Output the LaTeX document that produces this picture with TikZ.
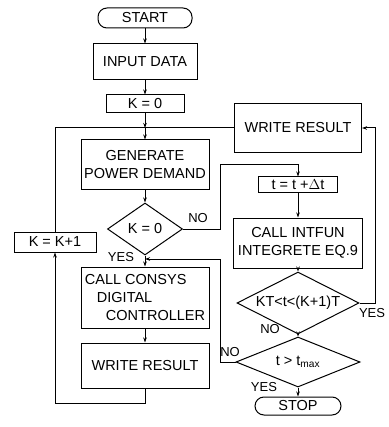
\documentclass[tikz,border=0pt]{standalone}
\usepackage{fontspec}
\setmainfont{Liberation Sans}
\usetikzlibrary{shapes.geometric,arrows.meta}
\newcommand\mytxt{\fontsize{14.5}{18}\selectfont}
\newcommand\mylab{\fontsize{13}{15}\selectfont}
\tikzset{
  box/.style={draw, line width=1pt, inner sep=0pt, font=\mytxt, align=center},
  term/.style={box, rounded corners=9pt},
  dia/.style={box, diamond, aspect=2},
  lab/.style={inner sep=0pt, font=\mylab},
  arr/.style={line width=1pt, -{Stealth[length=5pt,width=3.5pt]}},
  ln/.style={line width=1pt}
}
\begin{document}
\begin{tikzpicture}[x=1pt,y=-1pt]
\useasboundingbox (0,0) rectangle (388,427);
% left column
\node[term, minimum width=94, minimum height=20] (start) at (145,18) {START};
\node[box, minimum width=104, minimum height=36] (input) at (145,62) {INPUT DATA};
\node[box, minimum width=78, minimum height=18] (k0) at (145,104) {K = 0};
\node[box, minimum width=128, minimum height=50] (gen) at (145,165) {GENERATE\\POWER DEMAND};
\node[dia, minimum width=75, minimum height=52] (d1) at (145,229) {K = 0};
\node[box, minimum width=128, minimum height=61, align=left] (consys) at (145,297.5)
  {CALL CONSYS\\\hspace*{12pt}DIGITAL\\\hspace*{21pt}CONTROLLER};
\node[box, minimum width=128, minimum height=45] (wr1) at (145,365.5) {WRITE RESULT};
\node[box, minimum width=82, minimum height=20] (kk1) at (55,242) {K = K+1};
% right column
\node[box, minimum width=127, minimum height=49] (wr2) at (298,128) {WRITE RESULT};
\node[box, minimum width=79, minimum height=16] (tbox) at (298,185) {t = t +$\Delta$t};
\node[box, minimum width=129, minimum height=50] (intfun) at (298,243) {CALL INTFUN\\INTEGRETE EQ.9};
\node[dia, minimum width=122, minimum height=62] (d2) at (298,303) {KT<t<(K+1)T};
\node[dia, minimum width=124, minimum height=50] (d3) at (298,362) {t > t\textsubscript{max}};
\node[term, minimum width=86, minimum height=18] (stop) at (298,406) {STOP};
% coordinates
\coordinate (j1) at (145,128);
\coordinate (j2) at (145,259);
\coordinate (c1) at (220,165);
\coordinate (c2) at (375,303);
\coordinate (c3) at (220,259);
\coordinate (c4) at (145,403);
% connectors
\draw[arr] (start) -- (input);
\draw[arr] (input) -- (k0);
\draw[arr] (k0) -- (j1);
\draw[arr] (j1) -- (gen);
\draw[arr] (gen) -- (d1);
\draw[arr] (d1.south) -- (consys.north);
\draw[arr] (consys) -- (wr1);
\draw[arr] (wr1.south) -- (c4) -| (kk1.south);
\draw[ln] (kk1.north) |- (j1);
\draw[ln] (wr2.west) -- (j1);
\draw[arr] (d1.east) -| (c1) -| (tbox.north);
\draw[arr] (tbox) -- (intfun);
\draw[arr] (intfun) -- (d2);
\draw[arr] (d2.east) -- (c2) |- (wr2.east);
\draw[arr] (d2) -- (d3);
\draw[arr] (d3.west) -| (c3) -- (j2);
\draw[arr] (d3) -- (stop);
% labels
\node[lab] (l1) at (198,218) {NO};
\node[lab] (l2) at (121,257) {YES};
\node[lab] (l3) at (372,313) {YES};
\node[lab] (l4) at (270,329) {NO};
\node[lab] (l5) at (230,352) {NO};
\node[lab] (l6) at (264,387) {YES};
\end{tikzpicture}
\end{document}
